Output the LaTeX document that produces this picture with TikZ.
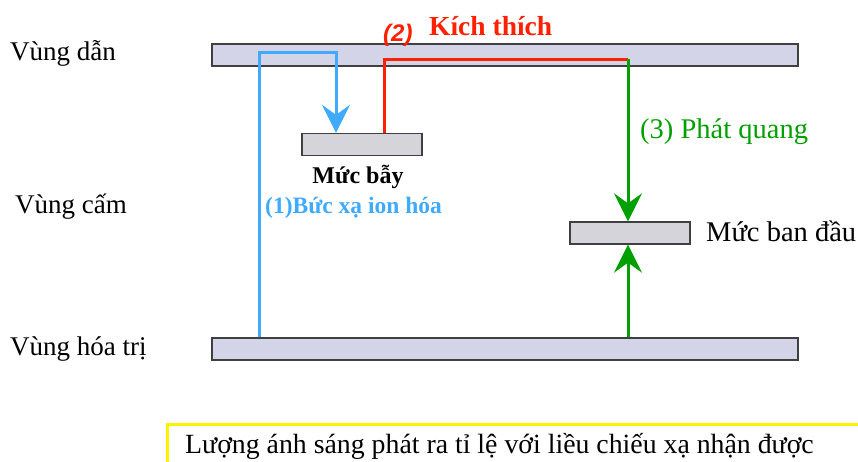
\documentclass[tikz,border=0pt]{standalone}
\usepackage{fontspec}
\setmainfont{Liberation Serif}
\newfontfamily\arialfont{Liberation Sans}
\usetikzlibrary{arrows.meta}
\definecolor{bandfill}{RGB}{212,212,232}
\definecolor{levelfill}{RGB}{212,212,218}
\definecolor{edgegrey}{RGB}{64,64,64}
\definecolor{lblue}{RGB}{64,170,255}
\definecolor{lred}{RGB}{255,32,0}
\definecolor{lgreen}{RGB}{0,160,0}
\tikzset{
  band/.style={draw=edgegrey, fill=bandfill, line width=1.3pt, minimum width=586pt, minimum height=22pt, inner sep=0pt},
  level/.style={draw=edgegrey, fill=levelfill, line width=1.3pt, minimum width=120pt, minimum height=22pt, inner sep=0pt},
  lbl/.style={font=\fontsize{27}{30}\selectfont, inner sep=0pt, anchor=base west},
  conn/.style={line width=3pt},
  tip/.style={-{Stealth[length=28pt, width=28pt, inset=10pt]}},
}
\begin{document}
\begin{tikzpicture}[x=1pt, y=-1pt]
\clip (0,0) rectangle (858,461);
\fill[white] (0,0) rectangle (858,461);
% bands and levels
\node[band] (cb) at (505,55) {};
\node[band] (vb) at (505,349) {};
\node[level] (trap) at (362,144.5) {};
\node[level] (init) at (630,233) {};
% coordinates of connector corners
\coordinate (b1) at (259,52);
\coordinate (b2) at (336,52);
\coordinate (r1) at (384,59);
\coordinate (r2) at (628,59);
% blue
\draw[conn, lblue, tip] (vb.north -| b1) -- (b1) -- (b2) -- (trap.north -| b2);
% red
\draw[conn, lred] (trap.north -| r1) -- (r1) -- (r2);
% green
\draw[conn, lgreen, tip] (r2) -- (init.north -| r2);
\draw[conn, lgreen, tip] (vb.north -| r2) -- (init.south -| r2);
% labels
\node[lbl] (l1) at (10,60) {Vùng dẫn};
\node[lbl] (l2) at (15,213) {Vùng cấm};
\node[lbl] (l3) at (10,355) {Vùng hóa trị};
\node[lbl, text=lred, font=\arialfont\itshape\bfseries\fontsize{24}{28}\selectfont] (l4) at (383,41) {(2)};
\node[lbl, text=lred, font=\bfseries\fontsize{27.5}{30}\selectfont] (l5) at (429,35) {Kích thích};
\node[lbl, text=lgreen, font=\fontsize{28.5}{30}\selectfont] (l6) at (640,138) {(3) Phát quang};
\node[inner sep=0pt, anchor=base, font=\bfseries\fontsize{24}{28}\selectfont] (l7) at (358,183) {Mức bẫy};
\node[lbl, text=lblue, font=\bfseries\fontsize{23.5}{28}\selectfont] (l8) at (265,213) {(1)Bức xạ ion hóa};
\node[lbl, font=\fontsize{28.5}{30}\selectfont] (l9) at (706,241) {Mức ban đầu};
% note
\draw[yellow, line width=3pt] (167,424) rectangle (880,480);
\node[lbl, font=\fontsize{27.8}{30}\selectfont] (note) at (185,453) {Lượng ánh sáng phát ra tỉ lệ với liều chiếu xạ nhận được};
\end{tikzpicture}
\end{document}
